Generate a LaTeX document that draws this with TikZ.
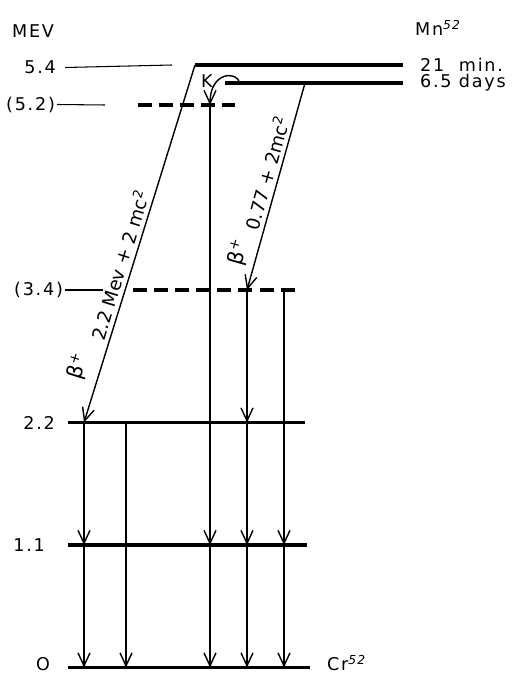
\documentclass[tikz,border=0pt]{standalone}
\usepackage{fontspec}
\setmainfont{DejaVu Sans}[LetterSpace=10]
\newfontfamily\slopefont{DejaVu Sans}
\usetikzlibrary{arrows.meta}

\begin{document}
\begin{tikzpicture}[>={Straight Barb[length=2.6mm,width=2.4mm]},
    every node/.style={font=\fontsize{10}{12}\selectfont, inner sep=1pt},
    level/.style={line width=2pt},
    virtual/.style={line width=2pt, dash pattern=on 8pt off 4pt},
    tick/.style={line width=0.6pt},
    trans/.style={->, line width=0.8pt},
    slabel/.style={sloped, font=\slopefont\fontsize{10.5}{12}\selectfont},
    blabel/.style={sloped, font=\slopefont\fontsize{12}{14}\selectfont}]
  \useasboundingbox (0,0) rectangle (10.3,13.5);
  \node[anchor=west] (mev) at (0.2,12.88) {MEV};
  \node[anchor=west] (mn) at (8.26,12.94) {Mn\textsuperscript{\itshape 52}};
  \node[anchor=west] (cr) at (6.5,0.24) {Cr\textsuperscript{\itshape 52}};
  \node[anchor=west] (tmin) at (8.36,12.2) {21\ \ min.};
  \node[anchor=west] (tday) at (8.36,11.84) {6.5 days};
  \node (k) at (4.14,11.88) {K};
  \node[anchor=east] (l54) at (1.16,12.15) {5.4};
  \node[anchor=east] (l52) at (1.14,11.41) {(5.2)};
  \node[anchor=east] (l34) at (1.3,7.7) {(3.4)};
  \node[anchor=east] (l22) at (1.14,5.04) {2.2};
  \node[anchor=east] (l11) at (0.94,2.6) {1.1};
  \node[anchor=east] (l0) at (1.04,0.22) {O};
  \coordinate (t54) at (3.44,12.2);
  \coordinate (t52) at (2.1,11.4);
  \coordinate (t34) at (2.06,7.7);
  \coordinate (e0) at (1.36,0.15);   \coordinate (e0r) at (6.2,0.15);
  \coordinate (e11) at (1.36,2.6);   \coordinate (e11r) at (6.14,2.6);
  \coordinate (e22) at (1.36,5.05);  \coordinate (e22r) at (6.1,5.05);
  \coordinate (e34) at (2.66,7.7);   \coordinate (e34r) at (6.0,7.7);
  \coordinate (e52) at (2.76,11.4);  \coordinate (e52r) at (4.7,11.4);
  \coordinate (e54) at (3.9,12.2);   \coordinate (e54r) at (8.06,12.2);
  \coordinate (e65) at (4.5,11.84);  \coordinate (e65r) at (8.06,11.84);
  \coordinate (b2) at (6.1,11.84);
  \coordinate (kst) at (4.8,11.84);
  \coordinate (c1) at (1.68,0);
  \coordinate (c2) at (2.52,0);
  \coordinate (c3) at (4.2,0);
  \coordinate (c4) at (4.94,0);
  \coordinate (c5) at (5.68,0);
  \draw[tick] ([xshift=4pt]l54.east) -- (t54);
  \draw[tick] (l52.east) -- (t52);
  \draw[tick] (l34.east) -- (t34);
  \draw[level] (e0) -- (e0r);
  \draw[level] (e11) -- (e11r);
  \draw[level] (e22) -- (e22r);
  \draw[virtual] (e34) -- (e34r);
  \draw[virtual] (e52) -- (e52r);
  \draw[level] (e54) -- (e54r);
  \draw[level] (e65) -- (e65r);
  \draw[trans] (e54) -- node[slabel, pos=0.57, above=1pt] {2.2 Mev + 2 mc\textsuperscript{2}}
    node[blabel, pos=0.86, above=5pt] {β\textsuperscript{+}} (c1 |- e22);
  \draw[trans] (b2) -- node[slabel, pos=0.45, above=1pt] {0.77 + 2mc\textsuperscript{2}}
    node[blabel, pos=0.84, above=3pt] {β\textsuperscript{+}} (c4 |- e34);
  \draw[trans] (kst) .. controls (4.72,12.1) and (4.2,12.05) .. (c3 |- e52);
  \draw[trans] (c1 |- e22) -- (c1 |- e11);
  \draw[trans] (c1 |- e11) -- (c1 |- e0);
  \draw[trans] (c2 |- e22) -- (c2 |- e0);
  \draw[trans] (c3 |- e52) -- (c3 |- e11);
  \draw[trans] (c3 |- e11) -- (c3 |- e0);
  \draw[trans] (c4 |- e34) -- (c4 |- e22);
  \draw[trans] (c4 |- e22) -- (c4 |- e11);
  \draw[trans] (c4 |- e11) -- (c4 |- e0);
  \draw[trans] (c5 |- e34) -- (c5 |- e11);
  \draw[trans] (c5 |- e11) -- (c5 |- e0);
\end{tikzpicture}
\end{document}
